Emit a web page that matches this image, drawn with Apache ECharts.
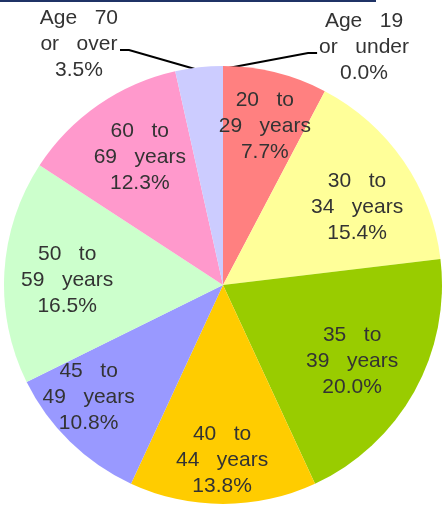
<!DOCTYPE html>
<html>
<head>
<meta charset="utf-8">
<script src="https://cdn.jsdelivr.net/npm/echarts@6/dist/echarts.min.js"></script>
<style>
html,body{margin:0;padding:0;background:#fff;}
#chart{width:443px;height:505px;}
</style>
</head>
<body>
<div id="chart"></div>
<script>
// Data
const categories = [
  'Age   19\nor   under',
  '20   to\n29   years',
  '30   to\n34   years',
  '35   to\n39   years',
  '40   to\n44   years',
  '45   to\n49   years',
  '50   to\n59   years',
  '60   to\n69   years',
  'Age   70\nor   over'
];
const values = [0.0, 7.7, 15.4, 20.0, 13.8, 10.8, 16.5, 12.3, 3.5];

// Styles
const colors = ['#FF8080', '#FF8080', '#FFFF99', '#99CC00', '#FFCC00', '#9999FF', '#CCFFCC', '#FF99CC', '#CCCCFF'];
const labelRadiusRatio = [null, 0.75, 0.708, 0.684, 0.80, 0.80, 0.712, 0.697, null];
const labelAngleShift = [0, 0.9, 4.4, 1.3, 0.3, 5.8, -1.6, 1.7, 0];
const outsideLabelOffset = { 0: [0.644, -1.087], 8: [-0.658, -1.10] };

const CX = 223, CY = 285, R = 219;
const total = values.reduce((a, b) => a + b, 0);
function midAngle(i) {
  let s = 0;
  for (let k = 0; k < i; k++) s += values[k];
  return (s + values[i] / 2) / total * 2 * Math.PI;
}

const chart = echarts.init(document.getElementById('chart'), null, { renderer: 'canvas' });

const data = values.map((v, i) => {
  const outside = outsideLabelOffset[i] !== undefined;
  return {
    name: categories[i],
    value: v,
    itemStyle: { color: colors[i] },
    label: { position: outside ? 'outside' : 'inside' },
    labelLine: { show: outside }
  };
});

chart.setOption({
  animation: false,
  graphic: [{
    type: 'line',
    shape: { x1: 0, y1: 1, x2: 376, y2: 1 },
    style: { stroke: '#1F3366', lineWidth: 2 },
    silent: true
  }],
  series: [{
    type: 'pie',
    center: [CX, CY],
    radius: R,
    startAngle: 90,
    clockwise: true,
    avoidLabelOverlap: false,
    minShowLabelAngle: 0,
    silent: true,
    emphasis: { disabled: true },
    itemStyle: { borderWidth: 0 },
    label: {
      show: true,
      color: '#333333',
      fontFamily: 'Liberation Sans, Arial, sans-serif',
      fontSize: 21,
      lineHeight: 26,
      align: 'center',
      formatter: p => p.name + '\n' + p.value.toFixed(1) + '%'
    },
    labelLine: {
      length: 10,
      length2: 9,
      minTurnAngle: 0,
      lineStyle: { color: '#000000', width: 2 }
    },
    labelLayout: function (p) {
      const i = p.dataIndex;
      const a = midAngle(i);
      if (outsideLabelOffset[i] !== undefined) {
        const o = outsideLabelOffset[i];
        const x = CX + o[0] * R, y = CY + o[1] * R;
        const w = p.labelRect.width;
        const right = Math.sin(a) >= 0;
        const p0 = [CX + (R - 3) * Math.sin(a), CY - (R - 3) * Math.cos(a)];
        const p2 = [right ? x - w / 2 - 2 : x + w / 2 + 2, y + 6];
        const p1 = [right ? p2[0] - 9 : p2[0] + 9, p2[1]];
        return { x: x, y: y, align: 'center', verticalAlign: 'middle', labelLinePoints: [p0, p1, p2] };
      }
      const b = a + labelAngleShift[i] * Math.PI / 180;
      const f = labelRadiusRatio[i];
      return { x: CX + f * R * Math.sin(b), y: CY - f * R * Math.cos(b), align: 'center', verticalAlign: 'middle' };
    },
    data: data
  }]
});
</script>
</body>
</html>
